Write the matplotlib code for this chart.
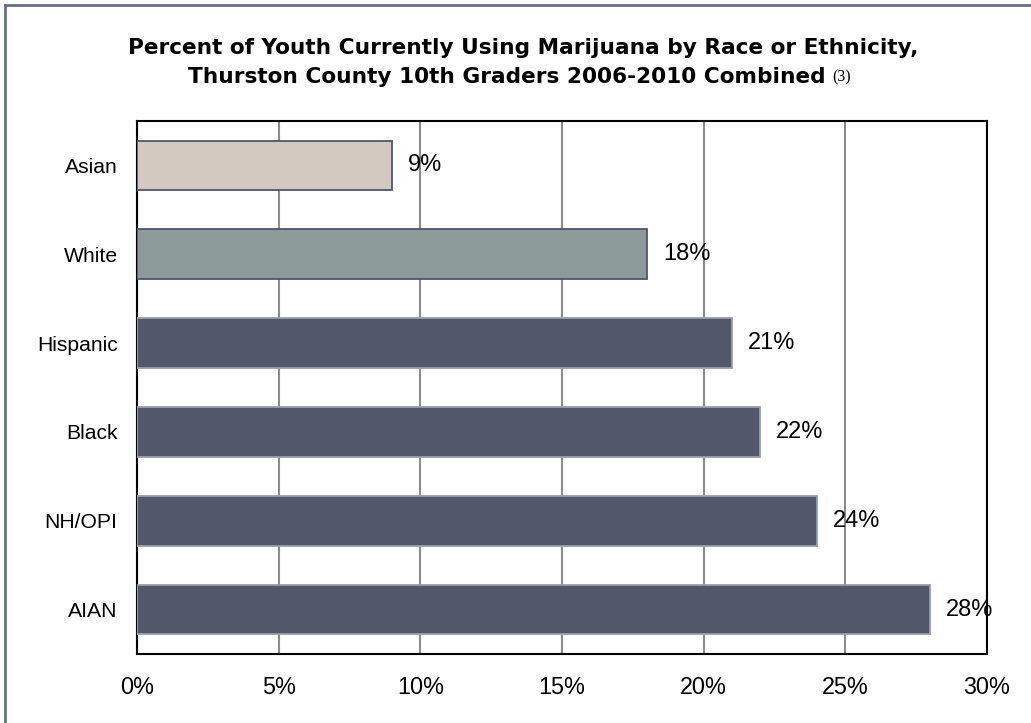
import matplotlib
matplotlib.use("Agg")
import matplotlib.pyplot as plt
from matplotlib.lines import Line2D
from matplotlib.ticker import PercentFormatter

groups = ["Asian", "White", "Hispanic", "Black", "NH/OPI", "AIAN"]
pct = [9, 18, 21, 22, 24, 28]
bar_colors = ["#d3c9c0", "#8c9a99", "#525769", "#525769", "#525769", "#525769"]
edge_colors = ["#4f5570", "#4f5570", "#9a9eac", "#9a9eac", "#9a9eac", "#9a9eac"]
x_ticks = [0, 5, 10, 15, 20, 25, 30]

title_1 = "Percent of Youth Currently Using Marijuana by Race or Ethnicity,"
title_2 = "Thurston County 10th Graders 2006-2010 Combined"

plt.rcParams["font.family"] = ["Liberation Sans", "DejaVu Sans"]

fig = plt.figure(figsize=(10.31, 7.23), dpi=100)
ax = fig.add_axes([137 / 1031, 1 - 654 / 723, 850 / 1031, 533 / 723])

ax.barh(groups, pct, height=0.56, color=bar_colors, edgecolor=edge_colors,
        linewidth=1.3, zorder=3)
ax.set_xlim(0, 30)
ax.set_ylim(len(groups) - 0.5, -0.5)
ax.set_xticks(x_ticks)
ax.xaxis.set_major_formatter(PercentFormatter(decimals=0))
ax.grid(axis="x", color="#8c8c8c", linewidth=1.5, zorder=0)
ax.tick_params(length=0, labelsize=15.2)
ax.tick_params(axis="x", pad=16, labelsize=16.8)
ax.tick_params(axis="y", pad=14)
for s in ax.spines.values():
    s.set_linewidth(1.5)
    s.set_color("black")

for i, v in enumerate(pct):
    ax.annotate(f"{v}%", (v, i), xytext=(11.5, 0), textcoords="offset points",
                va="center", ha="left", fontsize=17, zorder=4)

# titles
tfont = ["DejaVu Sans"]
fig.text(523 / 1031, 1 - 48 / 723, title_1, ha="center", va="center",
         fontsize=15.6, fontweight="bold", family=tfont)
t2 = fig.text(507 / 1031, 1 - 77 / 723, title_2, ha="center", va="center",
              fontsize=15.6, fontweight="bold", family=tfont)
fig.canvas.draw()
bb = t2.get_window_extent()
fig.text((bb.x1 + 6) / 1031, (bb.y1 - 2) / 723, "(3)", ha="left", va="top",
         fontsize=11.5, family=["Liberation Serif", "DejaVu Serif"])

# frame lines at top and left
frame = "#6a6f88"
fig.add_artist(Line2D([5 / 1031, 1], [1 - 5 / 723, 1 - 5 / 723], color=frame, lw=2,
                      transform=fig.transFigure))
fig.add_artist(Line2D([5 / 1031, 5 / 1031], [0, 1 - 5 / 723], color=frame, lw=2,
                      transform=fig.transFigure))

fig.savefig("out.png", dpi=100)
